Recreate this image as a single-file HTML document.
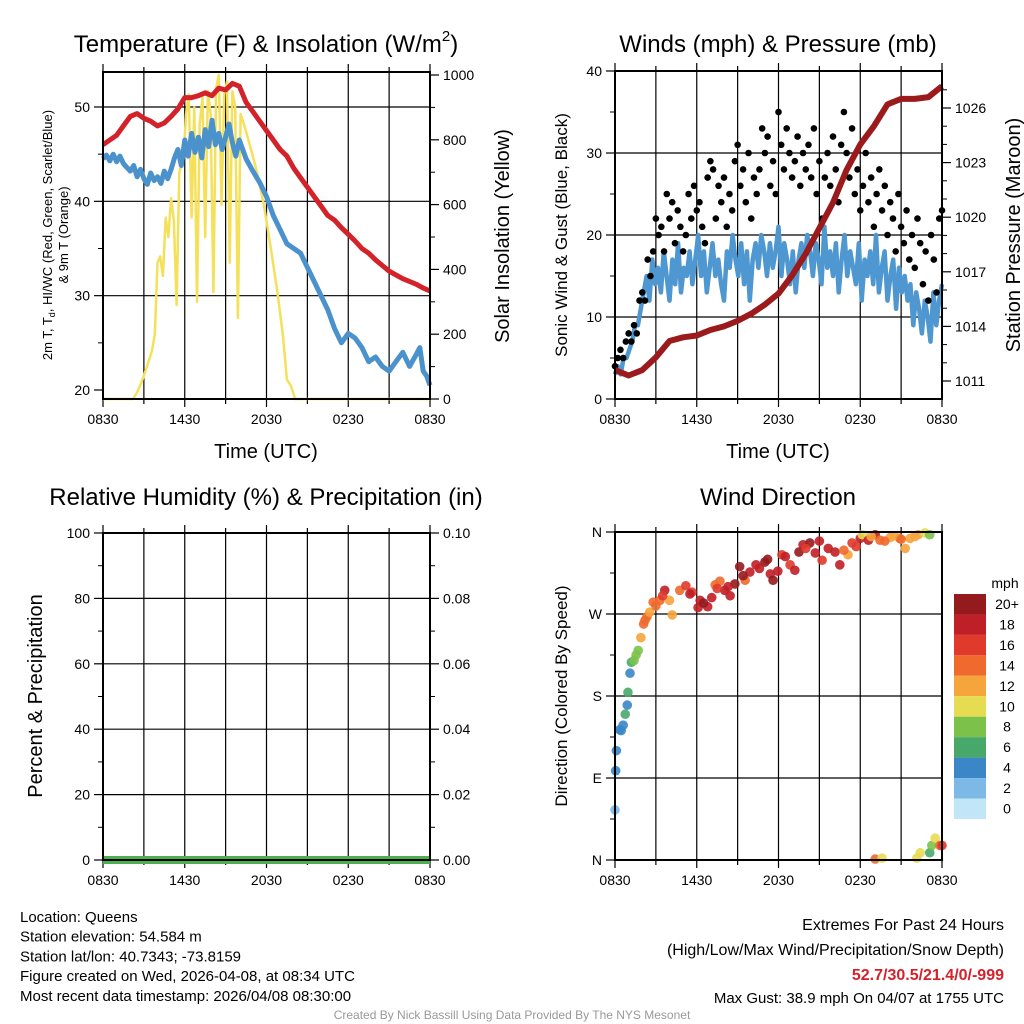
<!DOCTYPE html>
<html><head><meta charset="utf-8"><style>
body{margin:0;background:#fff}
svg{display:block;font-family:"Liberation Sans",sans-serif}
</style></head><body>
<svg id="c" width="1024" height="1024" xmlns="http://www.w3.org/2000/svg"></svg>
<script>
// ---- data ----
const tempHours=[0,0.5,1,1.5,2,2.5,3,3.5,4,4.5,5,5.5,6,6.5,7,7.5,8,8.5,9,9.5,10,10.5,11,11.5,12,12.5,13,13.5,14,14.5,15,15.5,16,16.5,17,17.5,18,18.5,19,19.5,20,20.5,21,21.5,22,22.5,23,23.5,24];
const tempF=[46,46.5,47,48,49,49.3,48.8,48.5,48,48.3,49,49.8,51,51,51.2,51.5,51.2,52,51.8,52.5,52.2,50.5,49.5,48.5,47.5,46.5,45.5,44.8,43.5,42.5,41.5,40.5,39.5,38.5,38,37.2,36.5,35.8,35,34.5,33.8,33.2,32.6,32.2,31.8,31.5,31.2,30.8,30.5];
const dewHours=[0,0.25,0.5,0.75,1,1.25,1.5,1.75,2,2.25,2.5,2.75,3,3.25,3.5,3.75,4,4.25,4.5,4.75,5,5.25,5.5,5.75,6,6.25,6.5,6.75,7,7.25,7.5,7.75,8,8.25,8.5,8.75,9,9.25,9.5,9.75,10,10.5,11,11.5,12,12.5,13,13.5,14,14.5,15,15.5,16,16.5,17,17.5,18,18.5,19,19.5,20,20.5,21,21.5,22,22.5,23,23.25,23.5,23.75,24];
const dewF=[44.5,44.9,44.3,45,44.2,44.8,44,43.6,43.2,43.8,42.6,43.4,42.4,41.8,43,42.2,42.6,41.9,43.2,42.4,43.4,44.6,45.5,43.8,46.5,44.8,47.2,45.2,46.8,44.6,47.6,45.8,48.6,46,47.2,45.5,46.8,48.2,46.2,44.8,46.5,44.5,43.2,42,40.5,38.5,37,35.5,35,34.5,33,31.5,30,28.5,26.5,25,26,25.5,24.5,23,23.5,22.5,22,23,24,22.5,23.8,24.5,22,21.5,20.5];
const solHours=[0,2.2,2.5,2.9,3.3,3.6,3.8,4.0,4.2,4.4,4.6,4.8,5.0,5.2,5.4,5.6,5.9,6.1,6.3,6.5,6.7,6.9,7.1,7.3,7.5,7.7,7.9,8.1,8.3,8.5,8.7,8.9,9.1,9.3,9.5,9.7,9.9,10.1,10.4,10.8,11.3,11.8,12.3,12.8,13.2,13.5,13.8,14.1,24];
const solW=[0,0,20,60,110,150,200,420,440,380,560,500,620,550,290,700,740,880,940,560,900,300,850,930,500,950,880,330,960,1000,600,940,980,420,950,900,250,880,840,780,700,600,470,330,200,60,40,0,0];
const windSpd=[3,4,3,5,5,6,7,9,9,11,13,15,12,17,14,16,13,18,15,12,17,14,19,13,16,15,18,14,17,20,15,18,13,16,19,15,17,14,12,18,16,20,17,15,19,14,18,12,17,19,16,20,18,15,19,16,18,21,15,19,17,14,18,13,17,19,16,20,18,15,19,17,14,21,16,18,15,19,13,17,20,15,18,16,14,19,12,17,15,18,14,20,13,16,18,12,15,17,11,16,13,15,12,14,9,13,11,8,12,10,7,13,9,12,14];
const gusts=[4,5,6,5,7,8,7,9,8,12,13,12,17,15,18,22,20,21,18,25,22,24,19,23,21,18,20,25,22,26,23,24,21,19,27,29,28,22,26,24,27,21,25,23,29,31,26,28,24,30,22,27,25,28,33,30,32,26,29,25,35,31,28,33,30,27,29,32,26,30,28,31,27,33,25,29,22,27,30,26,32,28,24,31,35,30,27,33,25,28,23,26,30,24,27,21,25,28,23,26,20,24,22,18,25,21,19,23,17,20,16,22,19,14,18,12,20,17,13,22,23];
const presHours=[0,1,2,3,4,5,6,7,8,9,10,11,12,13,14,15,16,17,18,19,20,21,22,23,24];
const presMb=[1011.6,1011.3,1011.6,1012.3,1013.2,1013.4,1013.5,1013.8,1014.0,1014.3,1014.7,1015.2,1015.8,1016.8,1018.0,1019.4,1020.8,1022.6,1024.0,1025.0,1026.2,1026.5,1026.5,1026.6,1027.2];
const dirHours=[0,0.05,0.1,0.35,0.45,0.6,0.75,0.9,0.95,1.1,1.2,1.4,1.55,1.7,1.9,2.1,2.2,2.35,2.55,3.0,3.3,3.65,4.0,4.2,4.75,5.2,5.65,6.1,6.25,6.8,7.1,7.35,7.7,8.05,8.45,8.8,9.15,9.55,9.9,10.35,11.0,11.4,11.6,11.95,12.25,12.85,13.2,13.8,14.3,14.7,15.2,15.65,16.15,16.5,17.1,17.7,18.0,18.15,18.6,19.1,19.45,20.2,20.9,21.3,21.65,22.25,22.75,23.1,19.1,19.6,22.15,22.4,23.1,23.25,23.5,23.85,24,2.8,3.5,5.5,6.5,7.5,8.3,9.4,10.6,11.2,12.5,13.5,14.0,15.0,16.8,17.4,18.8,19.8,20.5,21.0,22.0];
const dirDeg=[55,98,120,143,142,148,160,170,184,205,217,219,225,230,244,259,263,267,272,279,285,296,285,269,296,301,294,277,285,278,288,302,306,296,290,303,322,307,316,324,327,314,307,317,335,324,318,346,348,337,329,342,338,324,335,344,353,357,351,357,351,354,353,342,353,357,359,357,1,2,2,8,8,16,24,16,16,283,290,292,282,298,300,312,320,330,333,338,342,350,340,348,355,350,356,352,355];
const dirSpd=[2,4,4,4,4,4,6,4,6,4,6,8,8,8,12,14,14,13,12,13,14,18,12,12,14,16,16,17,18,18,18,14,14,18,18,20,20,14,18,18,20,18,20,18,16,16,18,18,20,18,16,18,18,18,12,16,18,10,18,18,14,12,14,12,12,12,10,8,14,10,10,10,6,8,10,14,16,14,16,18,20,16,18,20,18,20,18,20,16,18,14,16,12,14,12,14,12];
const cbLabels=["20+","18","16","14","12","10","8","6","4","2","0"];
const cbColors=["#951a1e","#bf1f26","#e03a2c","#ef6a2c","#f6a43c","#e6dc52","#7cc24a","#48a86a","#3a86c6","#7cb9e6","#c0e6f8"];
const xTickLabels=["0830","1430","2030","0230","0830"];

// ---- helpers ----
const NS="http://www.w3.org/2000/svg";
const svg=document.getElementById('c');
function el(tag,attrs,parent){const e=document.createElementNS(NS,tag);for(const k in attrs)e.setAttribute(k,attrs[k]);(parent||svg).appendChild(e);return e;}
function txt(s,x,y,size,anchor,parent,extra){const t=el('text',Object.assign({x:x,y:y,'font-size':size,'text-anchor':anchor||'middle',fill:'#000'},extra||{}),parent);t.textContent=s;return t;}
function panel(name,x0,y0,w,h){
  const g=el('g',{});
  
  
  return {g,x0,y0,w,h,xs:t=>x0+t/24*w};
}
function lin(v0,v1,p0,p1){return v=>p0+(v-v0)/(v1-v0)*(p1-p0);}
function frame(P,hgrid){
  const gg=el('g',{},P.g);
  
  
  for(let i=1;i<8;i++){const x=P.xs(i*3);el('line',{x1:x,x2:x,y1:P.y0,y2:P.y0+P.h,stroke:'#000','stroke-width':1.2},gg);}
  hgrid.forEach(y=>el('line',{x1:P.x0,x2:P.x0+P.w,y1:y,y2:y,stroke:'#000','stroke-width':1.2},gg));
  const xa=el('g',{},P.g);
  
  
  for(let i=0;i<=8;i++){const x=P.xs(i*3);el('line',{x1:x,x2:x,y1:P.y0+P.h,y2:P.y0+P.h+(i%2==0?8:5),stroke:'#000','stroke-width':1.2},xa);
    el('line',{x1:x,x2:x,y1:P.y0,y2:P.y0-(i%2==0?8:5),stroke:'#000','stroke-width':1.2},xa);}
  xTickLabels.forEach((s,i)=>txt(s,P.xs(i*6),P.y0+P.h+25,14,'middle',xa));
}
function border(P){el('rect',{x:P.x0,y:P.y0,width:P.w,height:P.h,fill:'none',stroke:'#000','stroke-width':2},P.g);}
function yTicks(P,vals,labels,yf,side,name,minor){
  const g=el('g',{},P.g);
  
  
  const x=side=='l'?P.x0:P.x0+P.w, d=side=='l'?-1:1;
  vals.forEach((v,i)=>{const y=yf(v);el('line',{x1:x,x2:x+d*9,y1:y,y2:y,stroke:'#000','stroke-width':1.2},g);
    txt(labels[i],x+d*13,y+5,14,side=='l'?'end':'start',g);});
  (minor||[]).forEach(v=>{const y=yf(v);el('line',{x1:x,x2:x+d*5,y1:y,y2:y,stroke:'#000','stroke-width':1},g);});
}
function pathD(xsArr,ysArr){return xsArr.map((x,i)=>(i?'L':'M')+x.toFixed(1)+','+ysArr[i].toFixed(1)).join('');}
function title(s,x,y,name){const t=txt(s,x,y,24,'middle');return t;}
function vlabel(s,x,y,size,name){const t=txt(s,x,y,size,'middle',svg,{transform:`rotate(-90 ${x} ${y})`});return t;}

// ---- Panel 1: Temperature ----
const P1=panel('temperature-panel',103,72,327,327);
const yT=lin(20,50,390,107), yS=lin(0,1000,399,75);
frame(P1,[30,40,50].map(yT));
yTicks(P1,[20,30,40,50],["20","30","40","50"],yT,'l','temp-y-axis',[25,35,45]);
yTicks(P1,[0,200,400,600,800,1000],["0","200","400","600","800","1000"],yS,'r','insolation-y-axis',[100,300,500,700,900]);
let p=el('path',{d:pathD(solHours.map(P1.xs),solW.map(yS)),fill:'none',stroke:'#f5e05a','stroke-width':2.5,'stroke-linejoin':'round'},P1.g);


p=el('path',{d:pathD(dewHours.map(P1.xs),dewF.map(yT)),fill:'none',stroke:'#4b92cd','stroke-width':5,'stroke-linejoin':'round'},P1.g);


p=el('path',{d:pathD(tempHours.map(P1.xs),tempF.map(yT)),fill:'none',stroke:'#d3222a','stroke-width':5,'stroke-linejoin':'round'},P1.g);


border(P1);
(function(){const t=txt('',266,52,24,'middle');
 t.innerHTML='Temperature (F) &amp; Insolation (W/m<tspan font-size="15" dy="-11">2</tspan><tspan dy="11">)</tspan>';})();
txt('Time (UTC)',266,458,20);
(function(){const t=txt('',52,235,13,'middle',svg,{transform:'rotate(-90 52 235)'});
 t.innerHTML='2m T, T<tspan font-size="9" dy="3">d</tspan><tspan dy="-3">, HI/WC (Red, Green, Scarlet/Blue)</tspan>';
 txt('& 9m T (Orange)',68,235,13,'middle',svg,{transform:'rotate(-90 68 235)'});})();
vlabel('Solar Insolation (Yellow)',509,236,20,'insolation-y-title');

// ---- Panel 2: Winds ----
const P2=panel('winds-panel',615,71,327,328);
const yW=lin(0,40,399,71), yP=lin(1011,1026,381,108);
frame(P2,[10,20,30].map(yW));
yTicks(P2,[0,10,20,30,40],["0","10","20","30","40"],yW,'l','wind-y-axis',[5,15,25,35]);
yTicks(P2,[1011,1014,1017,1020,1023,1026],["1011","1014","1017","1020","1023","1026"],yP,'r','pressure-y-axis',[1012,1013,1015,1016,1018,1019,1021,1022,1024,1025,1027]);
const spdX=windSpd.map((v,i)=>P2.xs(i/(windSpd.length-1)*24));
p=el('path',{d:pathD(spdX,windSpd.map(yW)),fill:'none',stroke:'#4f97d0','stroke-width':4.5,'stroke-linejoin':'round'},P2.g);


const gg=el('g',{},P2.g);


gusts.forEach((v,i)=>{const c=el('circle',{cx:P2.xs(i/(gusts.length-1)*24),cy:yW(v),r:3.3,fill:'#000'},gg);
 
 });
p=el('path',{d:pathD(presHours.map(P2.xs),presMb.map(yP)),fill:'none',stroke:'#9b1b1d','stroke-width':6,'stroke-linejoin':'round'},P2.g);


border(P2);
title('Winds (mph) & Pressure (mb)',778,52,'winds-title');
txt('Time (UTC)',778,458,20);
vlabel('Sonic Wind & Gust (Blue, Black)',567,235,17,'wind-y-title');
vlabel('Station Pressure (Maroon)',1020,235,20,'pressure-y-title');

// ---- Panel 3: RH ----
const P3=panel('humidity-panel',103,533,327,327);
const yR=lin(0,100,860,533), yPr=lin(0,0.1,860,533);
frame(P3,[20,40,60,80].map(yR));
yTicks(P3,[0,20,40,60,80,100],["0","20","40","60","80","100"],yR,'l','rh-y-axis',[10,30,50,70,90]);
yTicks(P3,[0,0.02,0.04,0.06,0.08,0.1],["0.00","0.02","0.04","0.06","0.08","0.10"],yPr,'r','precip-y-axis',[0.01,0.03,0.05,0.07,0.09]);
p=el('line',{x1:P3.x0,x2:P3.x0+P3.w,y1:yPr(0),y2:yPr(0),stroke:'#4caf50','stroke-width':8},P3.g);


border(P3);
title('Relative Humidity (%) & Precipitation (in)',266,505,'humidity-title');
vlabel('Percent & Precipitation',42,696,20,'rh-y-title');

// ---- Panel 4: Wind direction ----
const P4=panel('wind-direction-panel',615,532,327,328);
const yD=lin(0,360,860,532);
frame(P4,[90,180,270].map(yD));
yTicks(P4,[0,90,180,270,360],["N","E","S","W","N"],yD,'l','direction-y-axis',[45,135,225,315]);
const dg=el('g',{},P4.g);


function spdColor(s){const idx=Math.min(10,Math.floor((s+1)/2));return cbColors[10-idx];}
dirDeg.forEach((d,i)=>{const c=el('circle',{cx:P4.xs(dirHours[i]),cy:yD(d),r:4.8,fill:spdColor(dirSpd[i]),opacity:0.9},dg);
 
 });
border(P4);
title('Wind Direction',778,505,'wind-direction-title');
vlabel('Direction (Colored By Speed)',567,696,17,'direction-y-title');
// colorbar
const cb=el('g',{});


txt('mph',1005,588,14,'middle',cb);
cbColors.forEach((c,i)=>{const y=594+i*20.45;el('rect',{x:954,y:y,width:32,height:20.45,fill:c},cb);
 txt(cbLabels[i],1007,y+15,14,'middle',cb);});

// ---- footer text ----
const ft=el('g',{});


["Location: Queens","Station elevation: 54.584 m","Station lat/lon: 40.7343; -73.8159","Figure created on Wed, 2026-04-08, at 08:34 UTC","Most recent data timestamp: 2026/04/08 08:30:00"].forEach((s,i)=>txt(s,20,922+i*19.7,15,'start',ft));
const fr=el('g',{});


txt('Extremes For Past 24 Hours',1004,930,16,'end',fr);
txt('(High/Low/Max Wind/Precipitation/Snow Depth)',1004,955,16,'end',fr);
txt('52.7/30.5/21.4/0/-999',1004,980,16,'end',fr,{fill:'#d3222a','font-weight':'bold'});
txt('Max Gust: 38.9 mph On 04/07 at 1755 UTC',1004,1003,15,'end',fr);
const cr=txt('Created By Nick Bassill Using Data Provided By The NYS Mesonet',512,1019,12,'middle',svg,{fill:'#999'});


</script>
</body></html>
